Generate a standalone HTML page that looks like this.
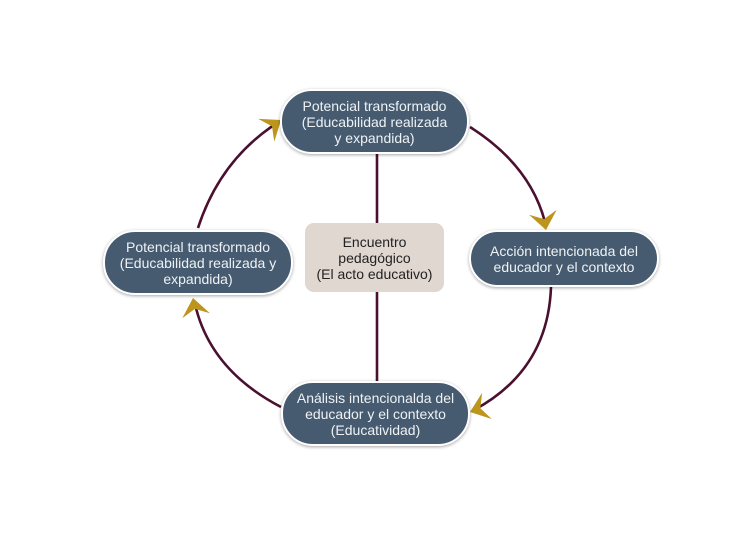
<!DOCTYPE html>
<html><head><meta charset="utf-8"><style>
html,body{margin:0;padding:0;background:#fff;}
body{width:737px;height:533px;position:relative;overflow:hidden;font-family:"Liberation Sans",sans-serif;}
.n{position:absolute;box-sizing:border-box;background:#465b70;border:2px solid #fff;border-radius:32px;box-shadow:0 1px 3px rgba(0,0,0,.35);color:#eef2f5;font-size:14px;line-height:16px;display:flex;align-items:center;justify-content:center;text-align:center;}
.c{position:absolute;left:305px;top:223px;width:139px;height:69px;background:#e0d7d0;border-radius:9px;color:#222;font-size:14px;line-height:16px;display:flex;align-items:center;justify-content:center;text-align:center;}
svg{position:absolute;left:0;top:0;}
</style></head><body>
<svg width="737" height="533">
<g fill="none" stroke="#4a1030" stroke-width="2.6">
<line x1="377" y1="152" x2="377" y2="224"/>
<line x1="377" y1="291" x2="377" y2="383"/>
<path d="M470 127 Q530 165 545 222"/>
<path d="M551 287 Q548 370 474 410"/>
<path d="M281 407 Q210 370 195 304"/>
<path d="M198 228 Q220 160 277 123"/>
</g>
<g fill="#bd941c">
<polygon points="0,0 -18,-14 -11,0 -18,14" transform="translate(546,230) rotate(80)"/>
<polygon points="0,0 -18,-14 -11,0 -18,14" transform="translate(470,412) rotate(160)"/>
<polygon points="0,0 -18,-14 -11,0 -18,14" transform="translate(193,298) rotate(-100)"/>
<polygon points="0,0 -18,-14 -11,0 -18,14" transform="translate(281,120) rotate(-35)"/>
</g>
</svg>
<div class="n" style="left:280px;top:89px;width:189px;height:65px;">Potencial transformado<br>(Educabilidad realizada<br>y expandida)</div>
<div class="n" style="left:469px;top:230px;width:190px;height:57px;">Acción intencionada del<br>educador y el contexto</div>
<div class="n" style="left:103px;top:230px;width:190px;height:65px;">Potencial transformado<br>(Educabilidad realizada y<br>expandida)</div>
<div class="n" style="left:281px;top:381px;width:189px;height:65px;">Análisis intencionalda del<br>educador y el contexto<br>(Educatividad)</div>
<div class="c">Encuentro<br>pedagógico<br>(El acto educativo)</div>
</body></html>
